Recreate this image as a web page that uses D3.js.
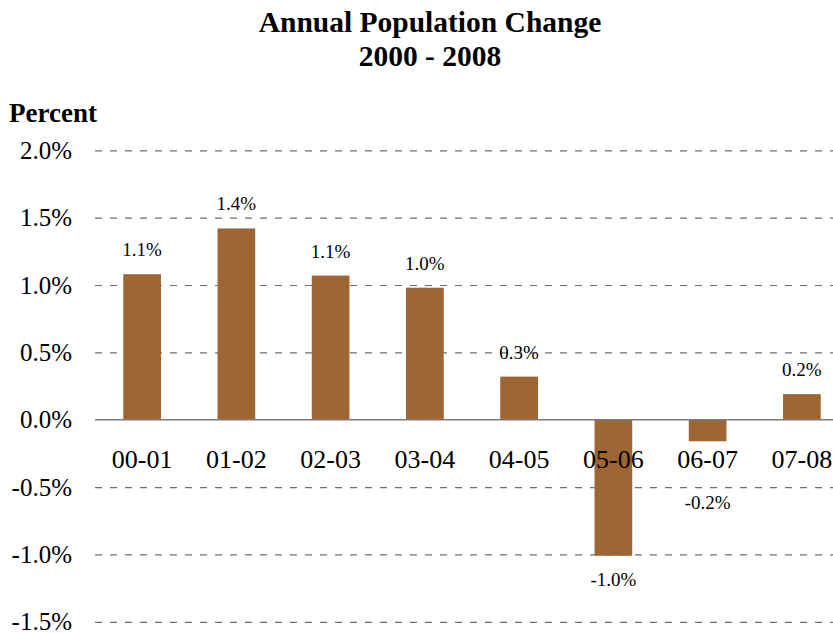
<!DOCTYPE html>
<html><head><meta charset="utf-8">
<script src="https://cdn.jsdelivr.net/npm/d3@7"></script>
<style>
body{margin:0;background:#fff;}
svg{display:block;}
text{font-family:"Liberation Serif","Times New Roman",serif;fill:#000;}
</style></head>
<body>
<svg id="chart" width="833" height="633"></svg>
<script>
const categories = ["00-01","01-02","02-03","03-04","04-05","05-06","06-07","07-08"];
const values = [1.08, 1.42, 1.07, 0.98, 0.32, -1.01, -0.16, 0.19];
const tickValues = [-1.5, -1.0, -0.5, 0.0, 0.5, 1.0, 1.5, 2.0];
const tickLabels = ["-1.5%", "-1.0%", "-0.5%", "0.0%", "0.5%", "1.0%", "1.5%", "2.0%"];
const titleLines = ["Annual Population Change", "2000 - 2008"];
const yTitle = "Percent";

(function(){
const svg = d3.select("#chart");
const pLeft = 95, pRight = 849, pTop = 150.3, pBottom = 621.8;

const x = d3.scaleBand().domain(categories).range([pLeft, pRight]).paddingInner(0.6).paddingOuter(0.3);
const y = d3.scaleLinear().domain([-1.5, 2.0]).range([pBottom, pTop]);
const fmt = v => (v < 0 ? "-" : "") + Math.abs(v).toFixed(1) + "%";

// title
svg.append("g").selectAll("text").data(titleLines).join("text")
  .attr("x", 430).attr("y", (d,i) => 32 + i*34)
  .attr("text-anchor","middle").attr("font-weight","bold").attr("font-size","29.5px")
  .text(d => d);

svg.append("text").attr("x", 9).attr("y", 121.5).attr("font-weight","bold").attr("font-size","27px").text(yTitle);

// y axis with gridlines
const yAxis = svg.append("g").attr("transform", `translate(${pLeft},0)`)
  .call(d3.axisLeft(y).tickValues(tickValues).tickFormat((d,i) => tickLabels[i])
        .tickSize(-(pRight-pLeft)).tickPadding(23));
yAxis.select(".domain").remove();
yAxis.selectAll(".tick line")
  .attr("stroke", d => d === 0 ? "none" : "#6e6e6e")
  .attr("stroke-width", 1.2)
  .attr("stroke-dasharray", "7,8");
yAxis.selectAll(".tick text").attr("font-size","25px").attr("fill","#000");

// bars
svg.append("g").selectAll("rect").data(values).join("rect")
  .attr("x", (d,i) => x(categories[i]))
  .attr("width", x.bandwidth())
  .attr("y", d => y(Math.max(0,d)))
  .attr("height", d => Math.abs(y(d) - y(0)))
  .attr("fill", "#9e6633");

// zero line
svg.append("line").attr("x1", pLeft).attr("x2", pRight).attr("y1", y(0)).attr("y2", y(0))
  .attr("stroke", "#7a7a7a").attr("stroke-width", 1.6);

// category axis
const xAxis = svg.append("g").attr("transform", `translate(0,${y(0)})`)
  .call(d3.axisBottom(x).tickSize(0).tickPadding(30));
xAxis.select(".domain").remove();
xAxis.selectAll(".tick text").attr("font-size","26px").attr("fill","#000");

// data labels
svg.append("g").selectAll("text").data(values).join("text")
  .attr("x", (d,i) => x(categories[i]) + x.bandwidth()/2)
  .attr("y", d => d >= 0 ? y(d) - 18 : Math.max(y(d) + 30, y(0) + 89))
  .attr("text-anchor","middle").attr("font-size","19px")
  .text(d => fmt(d));
})();
</script>
</body></html>
